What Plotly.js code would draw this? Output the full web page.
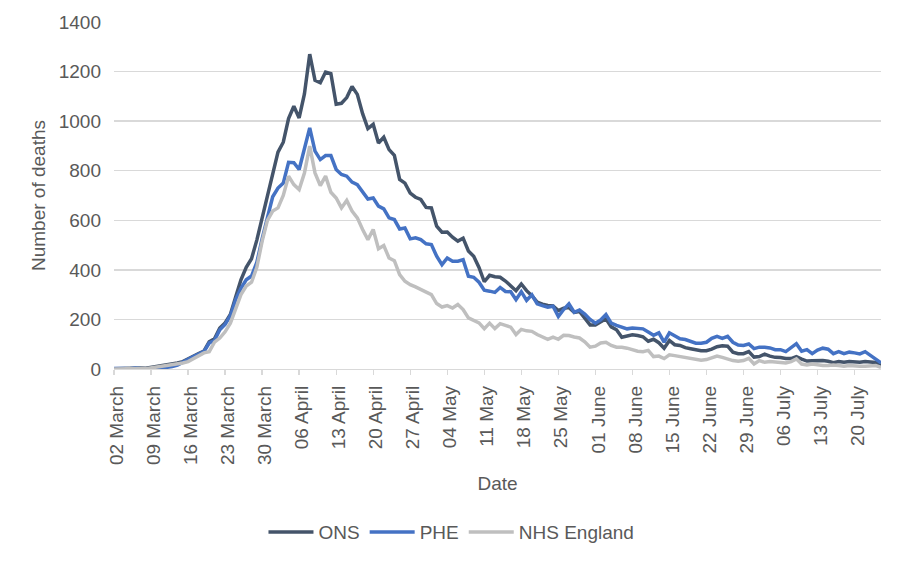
<!DOCTYPE html>
<html>
<head>
<meta charset="utf-8">
<script src="https://cdn.plot.ly/plotly-3.0.1.min.js"></script>
<style>html,body{margin:0;padding:0;background:#fff;}#chart{width:904px;height:562px;}</style>
</head>
<body>
<div id="chart"></div>
<script>
// Daily series, starting 02 March 2020
const startDate = '2020-03-02';
const tickLabels = ['02 March','09 March','16 March','23 March','30 March','06 April','13 April','20 April','27 April','04 May','11 May','18 May','25 May','01 June','08 June','15 June','22 June','29 June','06 July','13 July','20 July'];
const seriesNames = ['ONS','PHE','NHS England'];

const ons = [1,2,1,3,2,4,3,6,9,12,
15,19,24,30,42,52,62,72,110,122,
165,186,220,290,360,410,445,520,610,700,
790,875,915,1010,1060,1013,1110,1270,1165,1155,
1198,1192,1068,1072,1095,1140,1108,1030,970,987,
912,935,885,862,765,750,710,693,684,652,
650,576,552,553,532,516,528,476,455,410,
352,378,372,370,355,335,316,343,316,296,
270,262,
256,254,236,245,248,228,232,205,178,178,
190,203,170,158,128,133,138,135,130,112,
120,106,84,115,98,95,86,82,78,74,
74,80,90,94,92,68,62,62,70,48,
50,60,52,47,46,42,42,50,40,32,
33,34,34,31,25,30,27,30,27,27,
30,29,26,14];

const phe = [2,3,2,1,4,2,3,1,0,3,
6,10,16,28,42,50,60,70,105,115,
158,180,215,280,325,360,375,430,525,615,
695,730,750,834,832,805,886,973,879,845,
861,861,805,785,778,754,744,713,686,690,
657,646,610,603,565,569,525,529,522,505,
502,455,421,448,435,435,441,374,370,350,
318,314,309,329,313,312,280,312,277,299,
263,256,
249,253,212,240,263,229,238,222,200,185,
198,220,185,176,169,162,165,165,162,149,
136,146,108,146,133,122,119,112,104,104,
108,124,132,124,132,108,97,95,101,82,
88,88,85,78,78,70,88,102,72,78,
62,76,84,80,62,70,62,68,65,61,
70,55,42,25];

const nhs = [0,1,2,1,3,2,1,4,7,10,
14,17,20,24,30,42,55,65,70,108,
125,150,185,245,300,335,350,410,515,600,
637,650,700,778,744,724,791,899,791,740,
778,713,690,650,680,637,610,563,522,563,
485,498,448,437,381,354,340,331,320,310,
300,264,250,256,246,260,240,206,197,186,
163,185,163,183,176,169,139,160,154,152,
139,128,
120,129,120,136,135,129,125,110,88,92,
105,108,95,88,88,84,78,72,70,75,
50,52,42,57,54,50,47,45,40,35,
38,44,52,47,40,34,31,34,43,20,
34,27,30,27,24,24,30,41,20,16,
20,16,14,14,16,14,11,14,11,11,
11,14,14,7];

function dayString(i){
  const d = new Date(startDate + 'T00:00:00Z');
  d.setUTCDate(d.getUTCDate() + i);
  return d.toISOString().slice(0,10);
}
const dates = ons.map((_, i) => dayString(i));
const tickVals = tickLabels.map((_, k) => dayString(k * 7));

const colors = ['#44546A', '#4472C4', '#BFBFBF'];
const values = [ons, phe, nhs];

const traces = values.map((v, k) => ({
  type: 'scatter', mode: 'lines', name: seriesNames[k],
  x: dates, y: v,
  line: {color: colors[k], width: 3.5, shape: 'linear'},
  hoverinfo: 'x+y+name'
}));

const layout = {
  width: 904, height: 562,
  margin: {l: 114, r: 23, t: 22, b: 192},
  paper_bgcolor: '#ffffff', plot_bgcolor: '#ffffff',
  font: {family: '"Liberation Sans", Arial, sans-serif', size: 19, color: '#595959'},
  xaxis: {
    type: 'date', range: [dates[0], dates[dates.length - 1]],
    tickmode: 'array', tickvals: tickVals, ticktext: tickLabels,
    tickangle: -90, ticks: 'outside', ticklen: 5, tickcolor: '#d9d9d9', tickwidth: 1.3,
    showgrid: false, showline: true, linecolor: '#d9d9d9', linewidth: 1.3, zeroline: false,
    ticklabelstandoff: 3, ticklabelshift: 3,
    tickfont: {size: 19, color: '#595959'},
    title: {text: 'Date', standoff: 12, font: {size: 19, color: '#595959'}}
  },
  yaxis: {
    range: [0, 1400], dtick: 200, tick0: 0,
    showgrid: true, gridcolor: '#d9d9d9', gridwidth: 1.3,
    zeroline: false, showline: false, ticks: '',
    ticklabelstandoff: 12,
    tickfont: {size: 19, color: '#595959'},
    title: {text: 'Number of deaths', standoff: 8, font: {size: 19, color: '#595959'}}
  },
  showlegend: true,
  legend: {orientation: 'h', x: 0.44, xanchor: 'center', y: -0.466, yanchor: 'middle',
           font: {size: 19, color: '#595959'}, itemwidth: 45, bgcolor: 'rgba(0,0,0,0)'}
};

Plotly.newPlot('chart', traces, layout, {displayModeBar: false, staticPlot: true});
</script>
</body>
</html>
